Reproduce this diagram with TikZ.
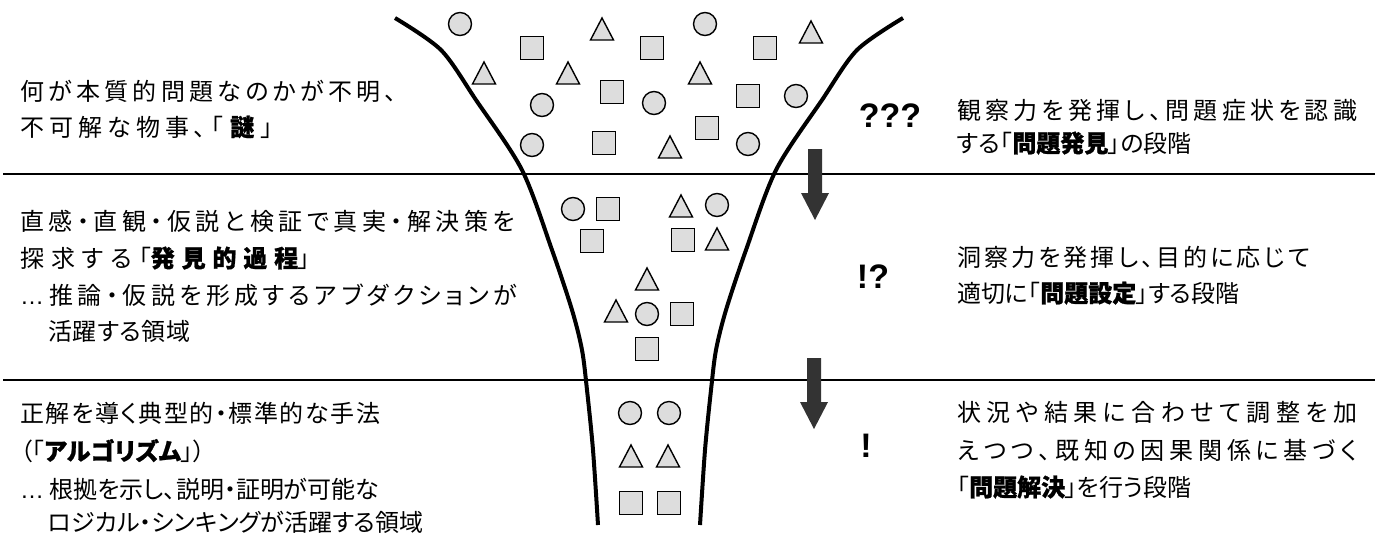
\documentclass[tikz,border=0pt]{standalone}
\usepackage{fontspec}
\setmainfont{Noto Sans CJK JP}[RawFeature={+palt}, BoldFeatures={FakeBold=1}]
\newfontfamily\latinfont{Liberation Sans}
\definecolor{shapegray}{RGB}{221,221,221}
\definecolor{arrowgray}{RGB}{51,51,51}
% inter-character glue for Japanese, used to spread lines to a given width
\newXeTeXintercharclass\jpclass
\newcount\jpcc
\def\setjprange#1#2{\jpcc=#1\relax\loop\XeTeXcharclass\jpcc=\jpclass\advance\jpcc by 1\relax\ifnum\jpcc<#2\repeat}
\setjprange{"3000}{"3100}
\setjprange{"4E00}{"A000}
\setjprange{"FF00}{"FFF0}
\XeTeXinterchartoks\jpclass\jpclass={\hskip 0pt plus 1fil\relax}
\newlength\jlw
\newcommand\jl[2]{\begingroup\XeTeXinterchartokenstate=1\relax\settowidth\jlw{#2}\ifdim\jlw<#1pt\makebox[#1pt][s]{#2}\else#2\fi\endgroup}
\tikzset{
  jtxt/.style={anchor=west, inner sep=0pt, font=\fontsize{24}{28}\selectfont, text height=21.1pt, text depth=2.9pt},
  punct/.style={inner sep=0pt, font=\latinfont\bfseries\fontsize{34}{38}\selectfont},
  shp/.style={draw=black, line width=1.4pt, fill=shapegray},
  funnelline/.style={line width=4pt},
  hline/.style={line width=2.4pt},
  blockarrow/.style={fill=arrowgray}
}
\begin{document}
\begin{tikzpicture}[x=1pt,y=-1pt]
\useasboundingbox (0,0) rectangle (1375,536);
% section lines
\draw[hline] (3,174) -- (1375,174);
\draw[hline] (3,380) -- (1375,380);
% funnel
\draw[funnelline] plot[smooth] coordinates {(395,18) (441,50) (476,100) (522,170) (552,250) (572,310) (582,350) (587,390) (593,450) (598,525)};
\draw[funnelline] plot[smooth] coordinates {(903,18) (857,50) (822,100) (776,170) (746,250) (726,310) (716,350) (711,390) (705,450) (700,525)};
% circles
\foreach \p [count=\i] in {(460,24),(705,24),(542,105),(654,103),(796,96),(532,145),(748,144),(573,209),(717,205),(647,314),(630,413),(669,413)}
  \node[shp, circle, minimum size=23pt, inner sep=0pt] (c\i) at \p {};
% squares
\foreach \p [count=\i] in {(532,48),(652,48),(765,48),(612,92),(748,96),(707,128),(604,143),(608,209),(592,241),(683,240),(682,314),(647,349),(631,503),(669,503)}
  \node[shp, rectangle, minimum size=23pt, inner sep=0pt] (s\i) at \p {};
% triangles
\foreach \x/\y in {602/29,811/32,484/73,568/73,700/73,670/147,681/206,717/239,647/279,616/311,631/456,668/456}
  \draw[shp, line join=miter] ({\x-11.5},{\y+11}) -- ({\x+11.5},{\y+11}) -- (\x,{\y-11}) -- cycle;
% arrows
\fill[blockarrow] (808,149) -- (822,149) -- (822,193) -- (829,193) -- (815,220) -- (801,193) -- (808,193) -- cycle;
\fill[blockarrow] (807,358) -- (821,358) -- (821,402) -- (828,402) -- (814,429) -- (800,402) -- (807,402) -- cycle;
% marks
\node[punct] (m1) at (890,116) {???};
\node[punct] (m2) at (873,277) {!?};
\node[punct] (m3) at (866,446) {!};
% left texts
\node[jtxt] (tl1) at (20,91) {\jl{377}{何が本質的問題なのかが不明、}};
\node[jtxt] (tl2) at (20,127) {\jl{253}{不可解な物事、「\hspace{7pt}{\bfseries 謎}\hspace{7pt}」}};
\node[jtxt] (ml1) at (20,221) {\jl{495}{直感・直観・仮説と検証で真実・解決策を}};
\node[jtxt] (ml2) at (20,258) {\jl{290}{探求する「{\bfseries 発見的過程}」}};
\node[jtxt] (ml3) at (20,295) {\jl{497}{{\latinfont …} 推論・仮説を形成するアブダクションが}};
\node[jtxt] (ml4) at (48,331) {\jl{142}{活躍する領域}};
\node[jtxt] (bl1) at (20,413) {\jl{360}{正解を導く典型的・標準的な手法}};
\node[jtxt] (bl2) at (20,451) {\jl{185}{（「{\bfseries アルゴリズム}」）}};
\node[jtxt] (bl3) at (20,489) {\jl{325}{{\latinfont …} 根拠を示し、説明・証明が可能な}};
\node[jtxt] (bl4) at (48,522) {\jl{325}{ロジカル・シンキングが活躍する領域}};
% right texts
\node[jtxt] (r1) at (957,110) {\jl{400}{観察力を発揮し、問題症状を認識}};
\node[jtxt] (r2) at (957,143) {\jl{203}{する「{\bfseries 問題発見}」の段階}};
\node[jtxt] (r3) at (957,257) {\jl{353}{洞察力を発揮し、目的に応じて}};
\node[jtxt] (r4) at (957,293) {\jl{265}{適切に「{\bfseries 問題設定}」する段階}};
\node[jtxt] (r5) at (957,412) {\jl{400}{状況や結果に合わせて調整を加}};
\node[jtxt] (r6) at (957,450) {\jl{400}{えつつ、既知の因果関係に基づく}};
\node[jtxt] (r7) at (957,487) {\jl{211}{「{\bfseries 問題解決}」を行う段階}};
\end{tikzpicture}
\end{document}
